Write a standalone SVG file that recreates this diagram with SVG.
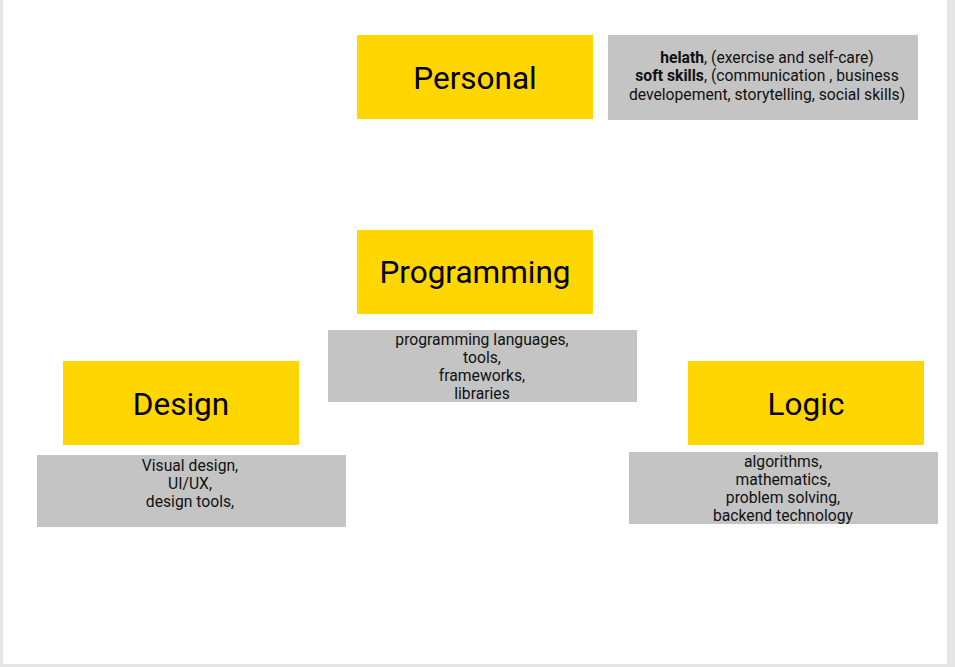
<svg xmlns="http://www.w3.org/2000/svg" width="955" height="667" viewBox="0 0 955 667">
<style>
.t{fill:#ffd600}
.n{fill:#c4c4c4}
.h{font-family:Roboto,"Liberation Sans",sans-serif;font-size:31.5px;fill:#000;text-anchor:middle}
.s{font-family:Roboto,"Liberation Sans",sans-serif;font-size:15.7px;fill:#111;text-anchor:middle}
.b{font-weight:bold}
</style>
<rect x="0" y="0" width="955" height="667" fill="#e6e6e6"/>
<rect x="3" y="0" width="944" height="664" fill="#ffffff"/>
<g id="personal"><rect class="t" x="357" y="35" width="236" height="84"/><text class="h" x="475" y="89">Personal</text></g>
<g id="personal-note"><rect class="n" x="608" y="35" width="310" height="85"/>
<text class="s" x="767" y="62.5"><tspan class="b">helath</tspan>, (exercise and self-care)</text>
<text class="s" x="767" y="81"><tspan class="b">soft skills</tspan>, (communication , business</text>
<text class="s" x="767" y="99.5">developement, storytelling, social skills)</text></g>
<g id="programming"><rect class="t" x="357" y="230" width="236" height="84"/><text class="h" x="475" y="283">Programming</text></g>
<g id="programming-note"><rect class="n" x="328" y="330" width="309" height="72"/>
<text class="s" x="482" y="344.5">programming languages,</text>
<text class="s" x="482" y="362.5">tools,</text>
<text class="s" x="482" y="380.5">frameworks,</text>
<text class="s" x="482" y="398.5">libraries</text></g>
<g id="design"><rect class="t" x="63" y="361" width="236" height="84"/><text class="h" x="181" y="415">Design</text></g>
<g id="design-note"><rect class="n" x="37" y="455" width="309" height="72"/>
<text class="s" x="190" y="470.5">Visual design,</text>
<text class="s" x="190" y="488.5">UI/UX,</text>
<text class="s" x="190" y="506.5">design tools,</text></g>
<g id="logic"><rect class="t" x="688" y="361" width="236" height="84"/><text class="h" x="806" y="415">Logic</text></g>
<g id="logic-note"><rect class="n" x="629" y="452" width="309" height="72"/>
<text class="s" x="783" y="466.5">algorithms,</text>
<text class="s" x="783" y="484.5">mathematics,</text>
<text class="s" x="783" y="502.5">problem solving,</text>
<text class="s" x="783" y="521">backend technology</text></g>
<g id="connectors"></g>
</svg>
